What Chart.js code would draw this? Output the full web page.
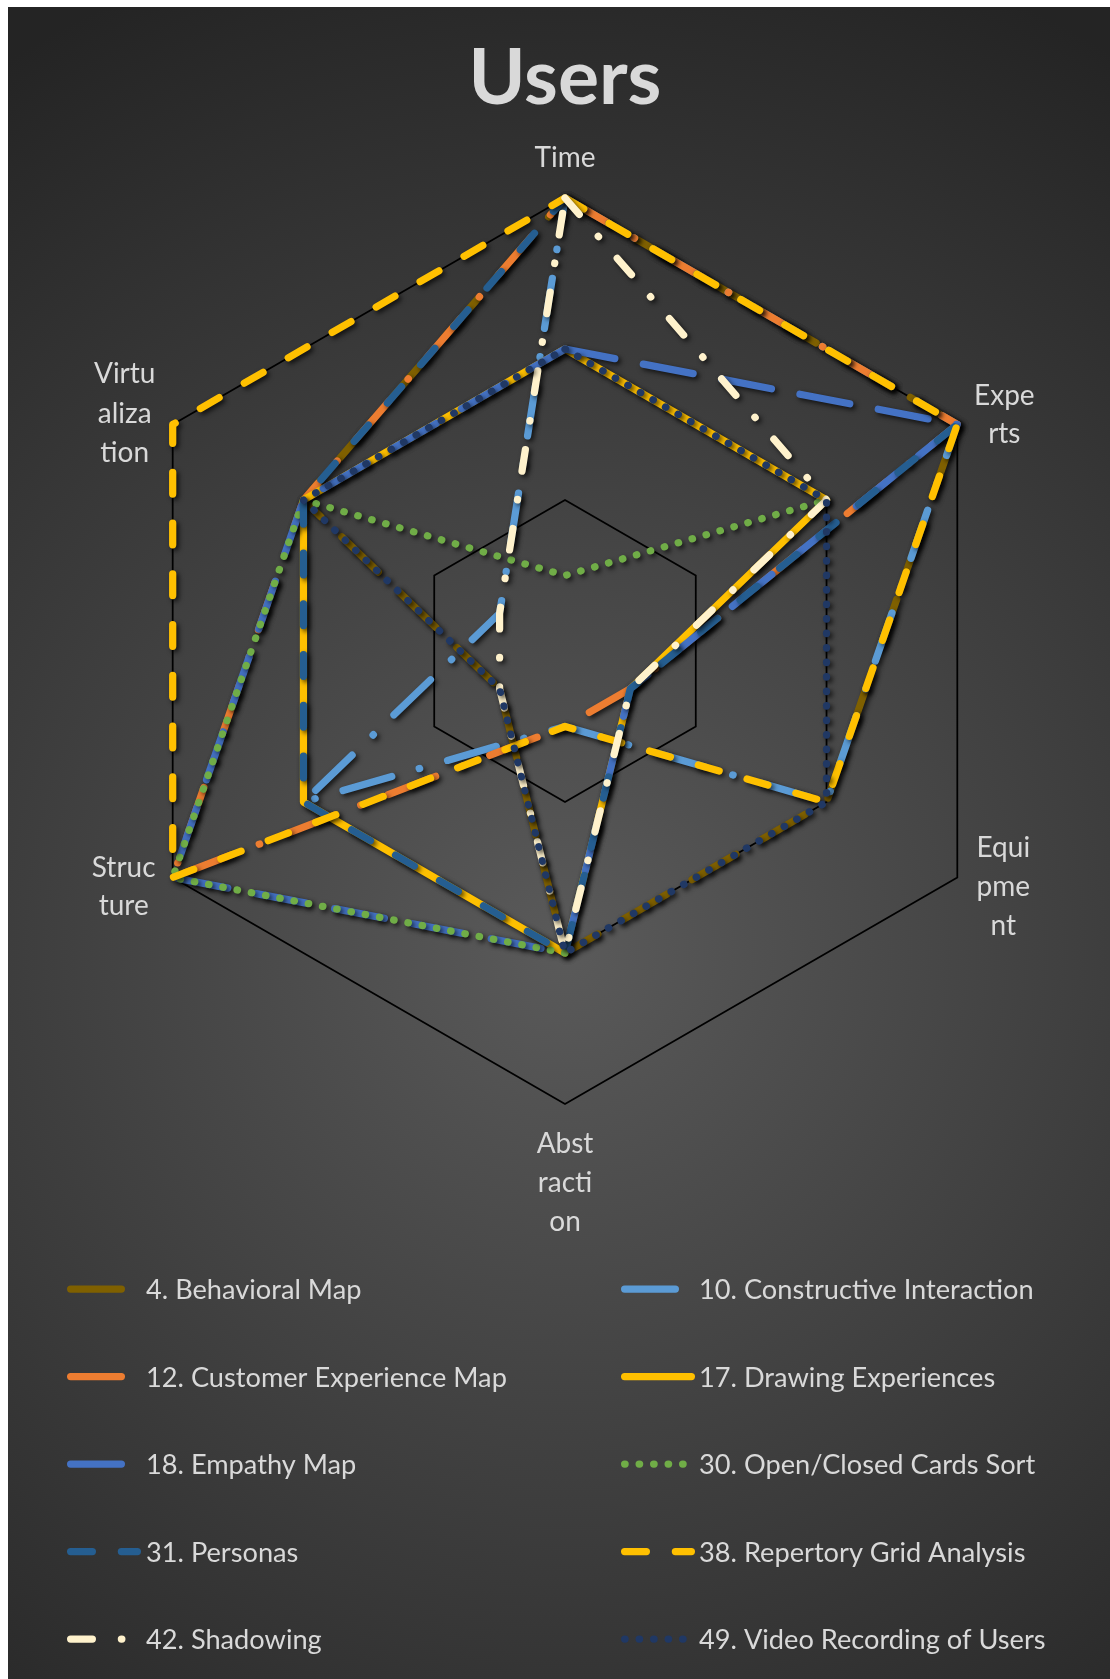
<!DOCTYPE html>
<html>
<head>
<meta charset="utf-8">
<title>Users</title>
<script src="https://cdn.jsdelivr.net/npm/chart.js@4.4.1/dist/chart.umd.min.js"></script>
<style>
  html, body { margin: 0; padding: 0; background: #ffffff; }
  #wrap { position: absolute; left: 8px; top: 7px; width: 1102px; height: 1672px; }
  canvas { display: block; }
</style>
</head>
<body>
<div id="wrap"><canvas id="chart" width="1102" height="1672"></canvas></div>
<script>
// ---- Data -------------------------------------------------------------
const categories = ['Time', 'Experts', 'Equipment', 'Abstraction', 'Structure', 'Virtualization'];
// category names as they wrap around the radar
const categoryLines = [['Time'], ['Expe', 'rts'], ['Equi', 'pme', 'nt'], ['Abst', 'racti', 'on'], ['Struc', 'ture'], ['Virtu', 'aliza', 'tion']];

const seriesNames = [
  '4. Behavioral Map', '10. Constructive Interaction', '12. Customer Experience Map',
  '17. Drawing Experiences', '18. Empathy Map', '30. Open/Closed Cards Sort',
  '31. Personas', '38. Repertory Grid Analysis', '42. Shadowing', '49. Video Recording of Users'
];

//                          Time Exp  Equip Abstr Struct Virt
const behavioralMap        = [3,   3,   2,    2,    0.5,   2  ];
const constructiveInteract = [3,   3,   2,    0.5,  2,     0.5];
const customerExperience   = [3,   3,   0.5,  0.5,  3,     2  ];
const drawingExperiences   = [2,   2,   0.5,  2,    2,     2  ];
const empathyMap           = [2,   3,   0.5,  2,    3,     2  ];
const openClosedCardsSort  = [0.5, 2,   null, 2,    3,     2  ];
const personas             = [3,   3,   0.5,  2,    2,     2  ];
const repertoryGrid        = [3,   3,   2,    0.5,  3,     3  ];
const shadowing            = [3,   2,   0.5,  2,    0.5,   0.5];
const videoRecording       = [2,   2,   2,    2,    0.5,   2  ];

const seriesValues = [
  behavioralMap, constructiveInteract, customerExperience, drawingExperiences, empathyMap,
  openClosedCardsSort, personas, repertoryGrid, shadowing, videoRecording
];

const scaleMin = 0;
const scaleMax = 3;
const scaleStep = 1;

// ---- Styles -----------------------------------------------------------
const LW = 7.25;
const DASH = {
  solid: [],
  dot: [0.5, 2 * LW - 0.5],
  dash: [3 * LW, 4 * LW],
  lgDash: [7 * LW, 4 * LW],
  dashDot: [3 * LW, 4 * LW, 0.5, 4 * LW - 0.5],
  lgDashDot: [7 * LW, 4 * LW, 0.5, 4 * LW - 0.5]
};
const seriesColors = ['#7F6000', '#5B9BD5', '#ED7D31', '#FFC000', '#4472C4', '#70AD47', '#255E91', '#FFC000', '#FFF2CC', '#203864'];
const seriesDash   = ['lgDash', 'lgDashDot', 'lgDashDot', 'solid', 'lgDash', 'dot', 'dash', 'dash', 'dashDot', 'dot'];

const TEXT_COLOR = '#D9D9D9';
Chart.defaults.font.family = 'Lato';

// offsets of the wrapped category names from their axis ends
const labelOffsets = [
  { dx: 0,   dy: [-31] },
  { dx: 47,  dy: [-20, 18] },
  { dx: 46,  dy: [-21, 18, 57] },
  { dx: 0,   dy: [49, 88, 127] },
  { dx: -49, dy: [-1, 37] },
  { dx: -48, dy: [-42, -2, 37] }
];

// ---- Plugins ----------------------------------------------------------
const backgroundPlugin = {
  id: 'bg',
  beforeDraw(chart) {
    const { ctx, width, height } = chart;
    ctx.save();
    const g = ctx.createRadialGradient(557, 943, 0, 557, 943, 1050);
    g.addColorStop(0, '#5a5a5a');
    g.addColorStop(1, '#242424');
    ctx.fillStyle = g;
    ctx.fillRect(0, 0, width, height);
    ctx.restore();
  }
};

const shadowPlugin = {
  id: 'lineShadow',
  beforeDatasetDraw(chart) {
    const ctx = chart.ctx;
    ctx.save();
    ctx.shadowColor = 'rgba(0,0,0,0.7)';
    ctx.shadowBlur = 5;
    ctx.shadowOffsetX = 2.5;
    ctx.shadowOffsetY = 2.5;
  },
  afterDatasetDraw(chart) {
    chart.ctx.restore();
  }
};

const axisLabelPlugin = {
  id: 'axisLabels',
  afterDraw(chart) {
    const s = chart.scales.r;
    const ctx = chart.ctx;
    ctx.save();
    ctx.font = '28px Lato';
    ctx.fillStyle = TEXT_COLOR;
    ctx.textAlign = 'center';
    ctx.textBaseline = 'alphabetic';
    categoryLines.forEach((lines, i) => {
      const p = s.getPointPosition(i, s.drawingArea);
      const o = labelOffsets[i];
      lines.forEach((t, k) => ctx.fillText(t, p.x + o.dx, p.y + o.dy[k]));
    });
    ctx.restore();
  }
};

const legendPlugin = {
  id: 'gridLegend',
  afterDraw(chart) {
    const ctx = chart.ctx;
    const colX = [59, 613];
    const textX = [138, 691];
    const rowY0 = 1282, rowGap = 87.5, sampleLen = 74;
    ctx.save();
    chart.data.datasets.forEach((ds, i) => {
      const col = i % 2, row = Math.floor(i / 2);
      const x0 = colX[col], y = rowY0 + row * rowGap;
      ctx.beginPath();
      ctx.setLineDash(ds.borderDash);
      ctx.lineDashOffset = 0;
      ctx.lineCap = 'round';
      ctx.lineWidth = ds.borderWidth;
      ctx.strokeStyle = ds.borderColor;
      ctx.moveTo(x0 + LW / 2, y);
      ctx.lineTo(x0 + sampleLen - LW / 2, y);
      ctx.stroke();
      ctx.setLineDash([]);
      ctx.font = '27.2px Lato';
      ctx.fillStyle = TEXT_COLOR;
      ctx.textAlign = 'left';
      ctx.textBaseline = 'alphabetic';
      ctx.fillText(ds.label, textX[col], y + 10);
    });
    ctx.restore();
  }
};

// ---- Chart ------------------------------------------------------------
const datasets = seriesNames.map((name, i) => ({
  label: name,
  data: seriesValues[i],
  borderColor: seriesColors[i],
  backgroundColor: 'transparent',
  borderWidth: LW,
  borderDash: DASH[seriesDash[i]],
  borderCapStyle: 'round',
  borderJoinStyle: 'round',
  fill: false,
  spanGaps: false,
  pointRadius: 0,
  pointHoverRadius: 0,
  order: seriesNames.length - i
}));

new Chart(document.getElementById('chart'), {
  type: 'radar',
  data: { labels: categories, datasets },
  options: {
    responsive: false,
    animation: false,
    events: [],
    layout: { padding: { left: 103.5, right: 91.5, top: 0, bottom: 574 } },
    plugins: {
      legend: { display: false },
      tooltip: { enabled: false },
      title: {
        display: true,
        text: 'Users',
        color: TEXT_COLOR,
        font: { family: 'Lato', size: 77, weight: 'bold', lineHeight: 1.2 },
        padding: { top: 26.4, bottom: 72.8 }
      }
    },
    scales: {
      r: {
        min: scaleMin,
        max: scaleMax,
        ticks: { display: false, stepSize: scaleStep },
        grid: { color: '#000000', lineWidth: 1.75, circular: false },
        angleLines: { display: false },
        pointLabels: { display: false }
      }
    }
  },
  plugins: [backgroundPlugin, shadowPlugin, axisLabelPlugin, legendPlugin]
});
</script>
</body>
</html>
